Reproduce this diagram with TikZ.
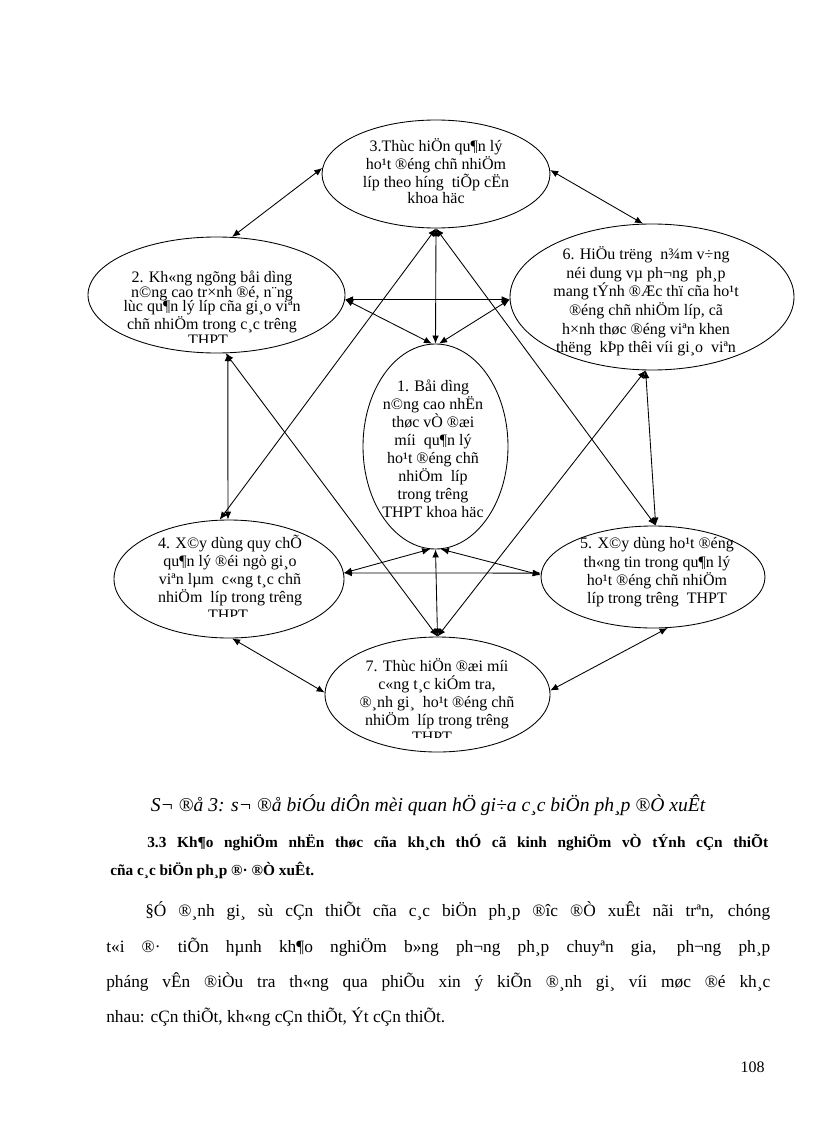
\documentclass[tikz,border=0pt]{standalone}
\usepackage{fontspec}
\setmainfont{Liberation Serif}
\usetikzlibrary{arrows.meta,shapes.geometric}
\begin{document}
\begin{tikzpicture}[x=0.75pt,y=-0.75pt,
  ell/.style 2 args={draw, ellipse, line width=0.65pt, inner sep=0pt,
    minimum width=#1*0.75pt, minimum height=#2*0.75pt},
  txt/.style={align=center, inner sep=0pt, font=\fontsize{12}{#1}\selectfont},
  bi/.style={{Latex[length=6pt,width=5pt]}-{Latex[length=6pt,width=5pt]}, line width=0.65pt},
  para/.style={inner sep=0pt, anchor=base west, font=\fontsize{13}{15}\selectfont},
  head/.style={inner sep=0pt, anchor=base west, font=\fontsize{11.5}{13}\selectfont\bfseries}
]
\fill[white] (0,0) rectangle (816,1123);
\useasboundingbox (0,0) rectangle (816,1123);

% ellipses
\node[ell={228}{108}] (e3) at (436,174) {};
\node[ell={257}{116}] (e2) at (216.5,295) {};
\node[ell={284}{146}] (e6) at (652,297) {};
\node[ell={145}{205}] (e1) at (435.5,446.5) {};
\node[ell={230}{118}] (e4) at (229,579) {};
\node[ell={224}{102}] (e5) at (653,577) {};
\node[ell={225}{115}] (e7) at (437.5,694.5) {};

% texts
\node[txt=12pt] (t3) at (436,171) {3.Thùc hiÖn qu¶n lý\\ho¹t ®éng chñ nhiÖm\\líp theo híng~ tiÕp cËn\\khoa häc};
\node[txt=11pt] (t2) at (212,302) {2. Kh«ng ngõng båi dìng\\n©ng cao tr×nh ®é, n¨ng\\lùc qu¶n lý líp cña gi¸o viªn\\chñ nhiÖm trong c¸c trêng};
\begin{scope}
\clip (150,320) rectangle (280,342);
\node[txt=11pt, anchor=base] (t2b) at (208,345) {THPT};
\end{scope}
\node[txt=14pt] (t6) at (646,301.5) {6. HiÖu trëng~ n¾m v÷ng\\néi dung vµ ph¬ng~ ph¸p\\mang tÝnh ®Æc thï cña ho¹t\\®éng chñ nhiÖm líp, cã\\h×nh thøc ®éng viªn khen\\thëng~ kÞp thêi víi gi¸o~ viªn};
\node[txt=13.5pt] (t1) at (433,448.5) {1. Båi dìng\\n©ng cao nhËn\\thøc vÒ ®æi\\míi~ qu¶n lý\\ho¹t ®éng chñ\\nhiÖm~ líp\\trong trêng\\THPT khoa häc};
\node[txt=13.5pt] (t4) at (230,571) {4. X©y dùng quy chÕ\\qu¶n lý ®éi ngò gi¸o\\viªn lµm~ c«ng t¸c chñ\\nhiÖm~ líp trong trêng};
\begin{scope}
\clip (170,600) rectangle (290,616);
\node[txt=11pt, anchor=base] (t4b) at (228,620) {THPT};
\end{scope}
\node[txt=13.7pt] (t5) at (657,572.5) {5. X©y dùng ho¹t ®éng\\th«ng tin trong qu¶n lý\\ho¹t ®éng chñ nhiÖm\\líp trong trêng~ THPT};
\node[txt=13.5pt] (t7) at (437,694) {7. Thùc hiÖn ®æi míi\\c«ng t¸c kiÓm tra,\\®¸nh gi¸~ ho¹t ®éng chñ\\nhiÖm~ líp trong trêng};
\begin{scope}
\clip (380,722) rectangle (490,737);
\node[txt=11pt, anchor=base] (t7b) at (432,742) {THPT};
\end{scope}

% connectors
\draw[bi] (e3.177) -- (e2.75);
\draw[bi] (e3.2) -- (e6.97);
\draw[bi] (e3.south) -- (e1.north);
\draw[bi] (e2.-2) -- (e6.181);
\draw[bi] (e2.-2) -- (e1.92);
\draw[bi] (e6.181) -- (e1.88);
\draw[bi] (e2.-79) -- (e4.91);
\draw[bi] (e6.-95) -- (e5.87);
\draw[bi] (e3.south) -- (e4.99);
\draw[bi] (e3.south) -- (e5.87);
\draw[bi] (e7.north) -- (e2.-81);
\draw[bi] (e7.north) -- (e6.-95);
\draw[bi] (e1.south) -- (e7.north);
\draw[bi] (e4.3) -- (e5.178);
\draw[bi] (e1.-93) -- (e4.3);
\draw[bi] (e1.-87) -- (e5.179);
\draw[bi] (e4.-87) -- (e7.179);
\draw[bi] (e5.-74) -- (e7.2);

% caption and body text
\node[inner sep=0pt, font=\fontsize{14.7}{17}\selectfont\itshape] (cap) at (428,805) {S¬ ®å 3: s¬ ®å biÓu diÔn mèi quan hÖ gi÷a c¸c biÖn ph¸p ®Ò xuÊt};
\node[head] (h1) at (147,847) {\makebox[465.75pt][s]{3.3 Kh¶o nghiÖm nhËn thøc cña kh¸ch thÓ cã kinh nghiÖm vÒ tÝnh cÇn thiÕt}};
\node[head] (h2) at (110,875) {cña c¸c biÖn ph¸p ®· ®Ò xuÊt.};
\node[para] (p1) at (145,916) {\makebox[468.75pt][s]{§Ó ®¸nh gi¸ sù cÇn thiÕt cña c¸c biÖn ph¸p ®îc ®Ò xuÊt nãi trªn, chóng}};
\node[para] (p2) at (106,952) {\makebox[498pt][s]{t«i ®· tiÕn hµnh kh¶o nghiÖm b»ng ph¬ng ph¸p chuyªn gia, ph¬ng ph¸p}};
\node[para] (p3) at (106,987) {\makebox[498pt][s]{pháng vÊn ®iÒu tra th«ng qua phiÕu xin ý kiÕn ®¸nh gi¸ víi møc ®é kh¸c}};
\node[para] (p4) at (106,1022) {nhau: cÇn thiÕt, kh«ng cÇn thiÕt, Ýt cÇn thiÕt.};
\node[inner sep=0pt, anchor=base east, font=\fontsize{12}{14}\selectfont] (pg) at (765,1072) {108};
\end{tikzpicture}
\end{document}
